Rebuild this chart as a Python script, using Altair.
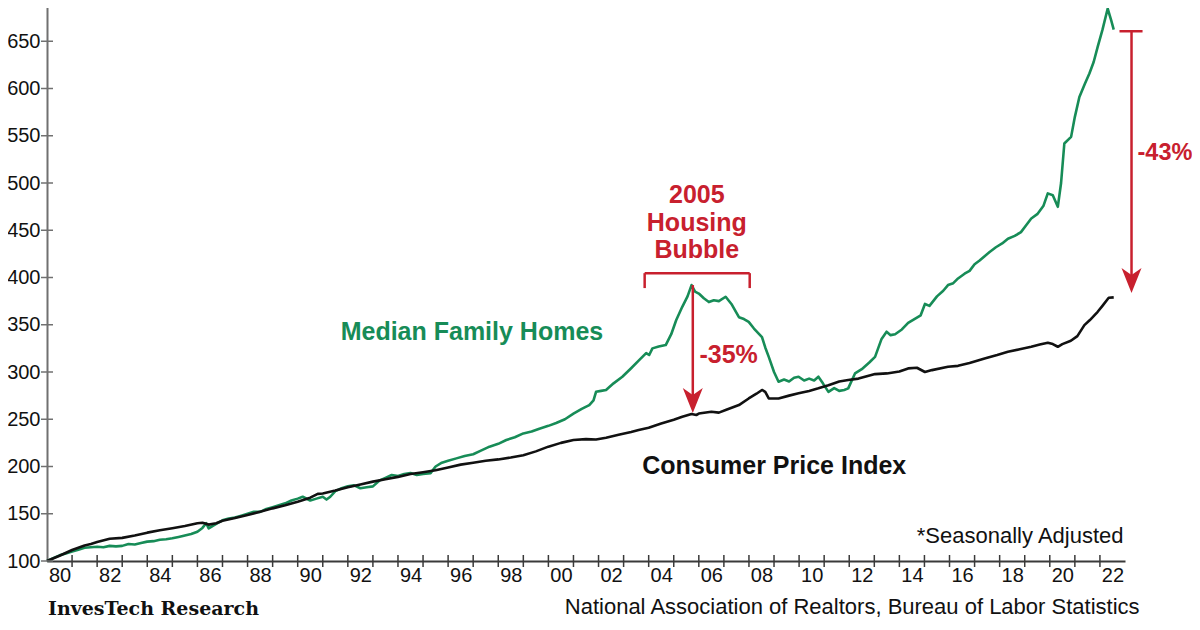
import altair as alt
import pandas as pd

# ---------------- data ----------------
home_years = [
    1980.0, 1980.25, 1980.5, 1980.75, 1981.0, 1981.25, 1981.5, 1981.75,
    1982.0, 1982.25, 1982.5, 1982.75, 1983.0, 1983.25, 1983.5, 1983.75,
    1984.0, 1984.25, 1984.5, 1984.75, 1985.0, 1985.25, 1985.5, 1985.75,
    1986.0, 1986.2, 1986.35, 1986.45, 1986.6, 1986.8, 1987.0, 1987.25,
    1987.5, 1987.75, 1988.0, 1988.25, 1988.5, 1988.75, 1989.0, 1989.25,
    1989.5, 1989.75, 1990.0, 1990.2, 1990.5, 1990.75, 1991.0, 1991.15,
    1991.3, 1991.5, 1991.75, 1992.0, 1992.25, 1992.5, 1992.75, 1993.0,
    1993.25, 1993.5, 1993.75, 1994.0, 1994.25, 1994.5, 1994.75, 1995.0,
    1995.3, 1995.5, 1995.75, 1996.0, 1996.33, 1996.66, 1997.0, 1997.33,
    1997.65, 1998.0, 1998.32, 1998.66, 1999.0, 1999.33, 1999.64, 2000.0,
    2000.31, 2000.66, 2001.0, 2001.33, 2001.63, 2001.8, 2001.9, 2002.1,
    2002.3, 2002.6, 2002.95, 2003.3, 2003.6, 2003.9, 2004.02, 2004.15,
    2004.4, 2004.68, 2004.9, 2005.1, 2005.34, 2005.55, 2005.71, 2005.85,
    2006.0, 2006.2, 2006.4, 2006.6, 2006.8, 2007.07, 2007.3, 2007.6,
    2007.8, 2007.99, 2008.2, 2008.52, 2008.65, 2008.79, 2009.0, 2009.18,
    2009.4, 2009.6, 2009.8, 2009.98, 2010.2, 2010.4, 2010.6, 2010.77,
    2010.95, 2011.17, 2011.4, 2011.6, 2011.8, 2011.96, 2012.23, 2012.5,
    2012.8, 2013.03, 2013.29, 2013.49, 2013.65, 2013.83, 2014.1, 2014.35,
    2014.6, 2014.85, 2015.02, 2015.2, 2015.5, 2015.75, 2015.94, 2016.15,
    2016.34, 2016.6, 2016.8, 2017.0, 2017.2, 2017.4, 2017.6, 2017.85,
    2018.1, 2018.33, 2018.6, 2018.85, 2019.05, 2019.26, 2019.5, 2019.75,
    2019.92, 2020.12, 2020.32, 2020.45, 2020.58, 2020.85, 2021.0, 2021.18,
    2021.4, 2021.58, 2021.75, 2021.91, 2022.1, 2022.31, 2022.45, 2022.55,
]
home_values = [
    100, 103, 106, 108, 110, 112, 114, 114.5,
    115, 114.5, 116, 115.5, 116, 118, 117.5, 119,
    120.5, 121, 122.5, 123, 124, 125.5, 127, 128.5,
    131, 135, 140, 134.5, 137, 140, 143, 145,
    146, 148, 150, 152, 152, 155, 157, 159,
    161, 164, 166, 168, 164, 166, 168, 165,
    168, 174, 177, 179, 180, 177, 178, 179,
    185, 188, 191, 190, 192, 193, 191, 192,
    193, 200, 204, 206, 208.6, 211, 213, 217,
    221, 224, 228, 231, 235, 237, 240, 243,
    246, 250, 256, 261, 265, 270, 279, 280,
    281, 288, 295, 304, 312, 320, 318, 325,
    327, 328.5, 340, 355, 369, 380, 392, 385,
    383, 378, 374, 376, 375, 379.6, 372, 358,
    356, 353, 346, 337, 326, 316, 300, 289.7,
    292, 290, 294, 295, 291, 293, 291, 295,
    288, 279, 283, 280, 281, 282.7, 298.5, 303,
    310, 316, 335, 342.6, 339, 340, 345, 352,
    356, 360, 372, 370, 380, 386, 392, 394,
    399, 404, 407, 414, 418, 422.6, 427, 432,
    436, 441, 444, 448, 455, 462.5, 467, 476,
    489, 487, 474.8, 500, 541.8, 548.8, 570, 591,
    605, 615.8, 628, 644, 662, 684.6, 672, 662.4,
]

cpi_years = [
    1980.0, 1980.5, 1981.0, 1981.5, 1981.75, 1982.0, 1982.5, 1983.0,
    1983.5, 1984.0, 1984.5, 1985.0, 1985.5, 1986.0, 1986.2, 1986.45,
    1986.75, 1987.0, 1987.5, 1988.0, 1988.5, 1989.0, 1989.5, 1990.0,
    1990.5, 1990.8, 1991.0, 1991.5, 1992.0, 1992.5, 1993.0, 1993.5,
    1994.0, 1994.5, 1995.0, 1995.5, 1996.0, 1996.5, 1997.0, 1997.5,
    1998.0, 1998.5, 1999.0, 1999.5, 2000.0, 2000.5, 2001.0, 2001.5,
    2001.9, 2002.3, 2002.8, 2003.3, 2003.6, 2004.0, 2004.5, 2005.0,
    2005.34, 2005.71, 2005.9, 2006.0, 2006.5, 2006.8, 2007.07, 2007.6,
    2007.99, 2008.3, 2008.52, 2008.65, 2008.79, 2009.18, 2009.6, 2009.98,
    2010.4, 2010.77, 2011.17, 2011.6, 2011.96, 2012.37, 2012.7, 2013.03,
    2013.5, 2014.0, 2014.35, 2014.7, 2015.02, 2015.3, 2015.94, 2016.34,
    2016.8, 2017.4, 2017.9, 2018.33, 2018.8, 2019.26, 2019.6, 2019.92,
    2020.12, 2020.32, 2020.5, 2020.84, 2021.1, 2021.38, 2021.6, 2021.91,
    2022.1, 2022.35, 2022.55,
]
cpi_values = [
    100, 105.5, 111.6, 116.5, 118, 120, 123.5, 124.5,
    127, 130, 132.5, 134.6, 137, 139.9, 140.5, 138.5,
    140, 142.6, 145.5, 148.6, 152, 155.7, 159, 162.7,
    167, 171, 171.5, 174.5, 178, 181, 184, 186.5,
    189, 192, 194, 196, 199, 202, 204, 206,
    207.5, 209.5, 212, 216, 221, 225, 228, 229,
    228.5, 230.5, 233.5, 236.5, 238.6, 241, 245.5, 249.5,
    252.6, 255.5, 254.5, 256, 258, 257, 259.7, 265,
    272, 277, 281, 279, 272, 272, 275, 277.4,
    280, 282.7, 286, 290, 291.5, 293, 295.5, 297.8,
    298.5, 300.5, 303.8, 304.5, 300, 302, 305.5, 306.5,
    309.5, 314.4, 318, 321.4, 324, 326.7, 329, 331,
    329.5, 326.7, 329.5, 333, 338, 349.6, 355, 363.7,
    370, 378.5, 379,
]

y_ticks = [100, 150, 200, 250, 300, 350, 400, 450, 500, 550, 600, 650, 700]
x_tick_years = list(range(1981, 2023))
x_labels = ["80", "82", "84", "86", "88", "90", "92", "94", "96", "98", "00",
            "02", "04", "06", "08", "10", "12", "14", "16", "18", "20", "22"]
x_label_years = [1980.5 + 2 * i for i in range(len(x_labels))]

# ---------------- styles ----------------
GREEN = "#178c57"
RED = "#c8202e"
BLACK = "#111111"
FONT = "Liberation Sans"

lines_df = pd.concat([
    pd.DataFrame({"year": home_years, "value": home_values, "series": "home"}),
    pd.DataFrame({"year": cpi_years, "value": cpi_values, "series": "cpi"}),
])
one = pd.DataFrame({"k": [0]})

xs = alt.Scale(domain=[1980, 2023], nice=False, zero=False)
ys = alt.Scale(domain=[100, 700], nice=False, zero=False)

label_expr = "[" + ",".join("'%s'" % s for s in x_labels) + "][round((datum.value - 1980.5) / 2)]"

x_axis = alt.Axis(values=x_label_years, labelExpr=label_expr, ticks=False, grid=False,
                  domainColor="#3a3a3a", domainWidth=2, labelFontSize=20, labelFont=FONT,
                  labelColor=BLACK, labelPadding=4, title=None, labelFlush=False,
                  labelOverlap=False)
y_axis = alt.Axis(values=y_ticks, ticks=False, grid=False, domainColor="#707070",
                  domainWidth=2, labelFontSize=20, labelFont=FONT, labelColor=BLACK,
                  labelPadding=7, title=None, labelOverlap=False, labelFlush=False,
                  format="d")

lines = alt.Chart(lines_df).mark_line(strokeWidth=2.6, strokeJoin="round").encode(
    x=alt.X("year:Q", scale=xs, axis=x_axis),
    y=alt.Y("value:Q", scale=ys, axis=y_axis),
    color=alt.Color("series:N", scale=alt.Scale(domain=["home", "cpi"], range=[GREEN, BLACK]),
                    legend=None),
)

xticks = alt.Chart(pd.DataFrame({"yr": x_tick_years})).mark_rule(
    color="#3a3a3a", strokeWidth=1.5, yOffset=-6, y2Offset=6).encode(
    x=alt.X("yr:Q", scale=xs, axis=x_axis),
    y=alt.YDatum(100, axis=y_axis), y2=alt.Y2Datum(100))

yticks = alt.Chart(pd.DataFrame({"v": y_ticks})).mark_rule(
    color="#707070", strokeWidth=1.5, xOffset=-6, x2Offset=6).encode(
    y=alt.Y("v:Q", scale=ys, axis=y_axis),
    x=alt.XDatum(1980, axis=x_axis), x2=alt.X2Datum(1980))


def text(t, x, y, size, color=BLACK, weight="bold", align="center", font=FONT):
    return alt.Chart(one).mark_text(text=t, fontSize=size, fontWeight=weight, color=color,
                                    align=align, baseline="middle", font=font).encode(
        x=alt.XDatum(x, axis=x_axis), y=alt.YDatum(y, axis=y_axis))


def vrule(x, y1, y2, color=RED, w=2.5):
    return alt.Chart(one).mark_rule(color=color, strokeWidth=w).encode(
        x=alt.XDatum(x, axis=x_axis), y=alt.YDatum(y1, axis=y_axis), y2=alt.Y2Datum(y2))


def hrule(x1, x2, y, color=RED, w=2.5):
    return alt.Chart(one).mark_rule(color=color, strokeWidth=w).encode(
        x=alt.XDatum(x1, axis=x_axis), x2=alt.X2Datum(x2), y=alt.YDatum(y, axis=y_axis))


ARROW = "M-0.4,-1 L0,-0.72 L0.4,-1 L0,0 Z"


def head(x, y):
    return alt.Chart(one).mark_point(shape=ARROW, size=2500, filled=True, color=RED,
                                     opacity=1, strokeWidth=0).encode(
        x=alt.XDatum(x, axis=x_axis), y=alt.YDatum(y, axis=y_axis))


annotations = [
    text("Median Family Homes", 1996.95, 342.2, 25, color=GREEN),
    text("Consumer Price Index", 2009.01, 200.5, 25),
    text("2005", 2005.92, 487.1, 25, color=RED),
    text("Housing", 2005.92, 457.5, 25, color=RED),
    text("Bubble", 2005.92, 429.0, 25, color=RED),
    hrule(2003.84, 2008.03, 404.6),
    vrule(2003.84, 404.6, 388.8),
    vrule(2008.03, 404.6, 388.8),
    vrule(2005.76, 392, 268),
    head(2005.76, 256.5),
    text("-35%", 2007.19, 317.9, 25, color=RED),
    hrule(2022.78, 2023.70, 660.6),
    vrule(2023.26, 660.6, 395),
    head(2023.26, 383.5),
    text("-43%", 2023.5, 531.6, 23.5, color=RED, align="left"),
    text("*Seasonally Adjusted", 2022.94, 126.4, 22, weight="normal", align="right"),
    text("InvesTech Research", 1980.04, 49.2, 19, weight="bold", align="left", font="DejaVu Serif"),
    text("National Association of Realtors, Bureau of Labor Statistics", 2023.58, 51.3, 22,
         weight="normal", align="right"),
]

chart = alt.layer(lines, xticks, yticks, *annotations).properties(
    width=1078, height=567,
    autosize=alt.AutoSizeParams(type="none"),
    padding={"left": 39, "top": -14, "right": 67, "bottom": 59},
    background="white",
).configure_view(stroke=None)

chart.save("out.html", embed_options={"renderer": "svg", "actions": False})
